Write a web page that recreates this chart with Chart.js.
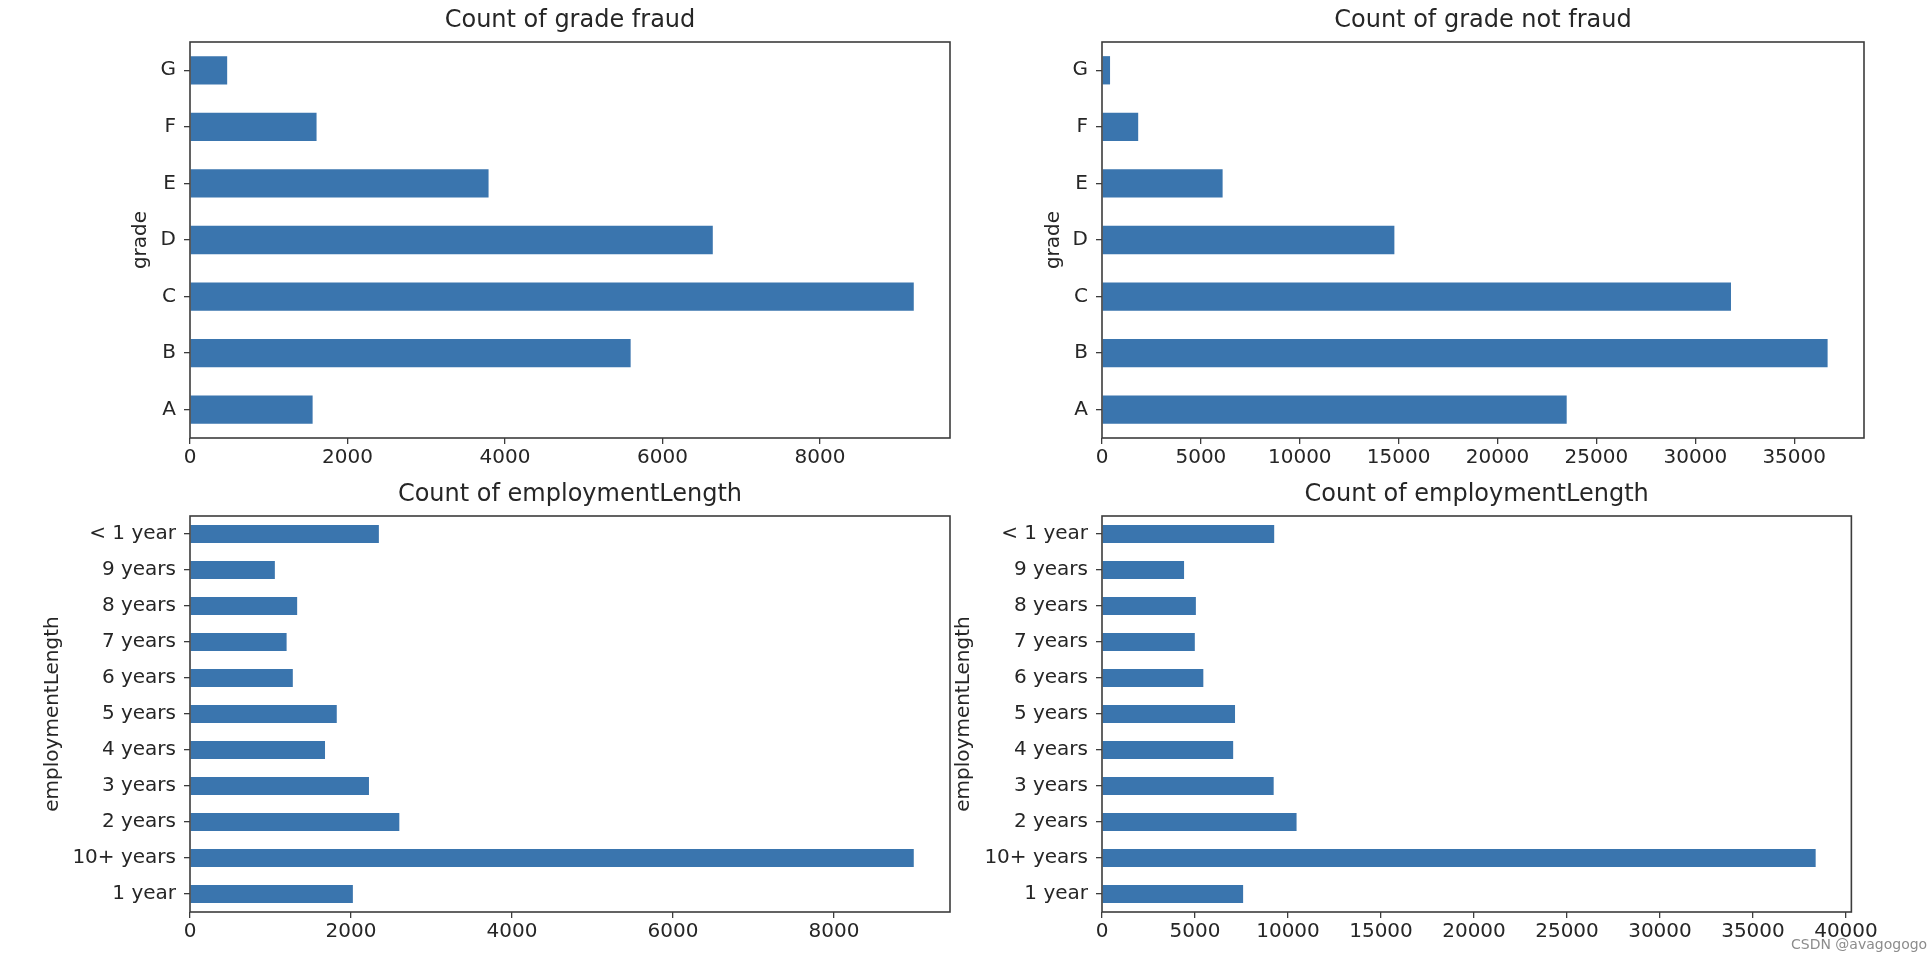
<!DOCTYPE html>
<html>
<head>
<meta charset="utf-8">
<script src="https://cdn.jsdelivr.net/npm/chart.js@4.4.1/dist/chart.umd.min.js"></script>
<style>
  html, body { margin: 0; padding: 0; background: #fff; }
  body { width: 1930px; height: 964px; position: relative; overflow: hidden; }
  canvas { position: absolute; display: block; }
  #gradeFraud { left: 0; top: 0; }
  #gradeNotFraud { left: 940px; top: 0; }
  #empFraud { left: 0; top: 474px; }
  #empNotFraud { left: 940px; top: 474px; }
  .watermark { position: absolute; left: 1791px; top: 936px; font: 14px "DejaVu Sans", sans-serif; color: #8c8c8c; }
</style>
</head>
<body>
<canvas id="gradeFraud" width="965" height="480"></canvas>
<canvas id="gradeNotFraud" width="940" height="480"></canvas>
<canvas id="empFraud" width="965" height="480"></canvas>
<canvas id="empNotFraud" width="940" height="480"></canvas>
<div class="watermark">CSDN @avagogogo</div>
<script>
const gradeLabels = ['A', 'B', 'C', 'D', 'E', 'F', 'G'];
const gradeFraudCounts = [1557, 5595, 9190, 6638, 3791, 1607, 472];
const gradeNotFraudCounts = [23497, 36690, 31804, 14784, 6099, 1830, 407];

const empLabels = ['1 year', '10+ years', '2 years', '3 years', '4 years', '5 years', '6 years', '7 years', '8 years', '9 years', '< 1 year'];
const empFraudCounts = [2023, 8990, 2600, 2223, 1677, 1823, 1277, 1200, 1331, 1054, 2346];
const empNotFraudCounts = [7587, 38370, 10461, 9230, 7052, 7152, 5448, 4990, 5047, 4412, 9258];

// x tick values and axis limits
const gradeFraudTicks = [0, 2000, 4000, 6000, 8000];
const gradeNotFraudTicks = [0, 5000, 10000, 15000, 20000, 25000, 30000, 35000];
const empFraudTicks = [0, 2000, 4000, 6000, 8000];
const empNotFraudTicks = [0, 5000, 10000, 15000, 20000, 25000, 30000, 35000, 40000];
const gradeFraudMax = 9650;
const gradeNotFraudMax = 38530;
const empFraudMax = 9440;
const empNotFraudMax = 40290;

const barColor = '#3a75ae';
const inkColor = '#262626';
const lineColor = '#3c3c3c';
const fontFamily = '"DejaVu Sans", sans-serif';

const frameBox = {
  id: 'frameBox',
  afterDraw(chart) {
    const { ctx, chartArea: a } = chart;
    ctx.save();
    ctx.strokeStyle = lineColor;
    ctx.lineWidth = 1.6;
    ctx.strokeRect(a.left, a.top, a.right - a.left, a.bottom - a.top);
    ctx.restore();
  }
};

function makeChart(id, cfg) {
  return new Chart(document.getElementById(id), {
    type: 'bar',
    data: {
      labels: cfg.labels,
      datasets: [{
        data: cfg.values,
        backgroundColor: barColor,
        borderWidth: 0,
        barPercentage: 0.5,
        categoryPercentage: 1.0,
      }]
    },
    options: {
      indexAxis: 'y',
      responsive: false,
      animation: false,
      layout: { padding: { left: 0, right: cfg.padRight, top: 0, bottom: 0 } },
      plugins: {
        legend: { display: false },
        tooltip: { enabled: false },
        title: {
          display: true,
          text: cfg.title,
          fullSize: false,
          color: inkColor,
          font: { family: fontFamily, size: 24, weight: 'normal', lineHeight: 1.2 },
          padding: { top: 6.6, bottom: 6.6 },
        },
      },
      scales: {
        y: {
          type: 'category',
          reverse: true,
          offset: true,
          grid: { display: true, drawOnChartArea: false, drawTicks: true, tickLength: 6, offset: false, color: lineColor, lineWidth: 1.3 },
          border: { display: false },
          ticks: { color: inkColor, font: { family: fontFamily, size: 20 }, padding: 8, autoSkip: false },
          title: {
            display: true,
            text: cfg.yTitle,
            color: inkColor,
            font: { family: fontFamily, size: 20, lineHeight: 1.2 },
            padding: { top: cfg.yTitlePad, bottom: 0 },
          },
          afterFit(scale) { scale.width = cfg.yWidth; },
        },
        x: {
          type: 'linear',
          min: 0,
          max: cfg.max,
          grid: { display: true, drawOnChartArea: false, drawTicks: true, tickLength: 6, color: lineColor, lineWidth: 1.3 },
          border: { display: false },
          ticks: {
            maxRotation: 0,
            color: inkColor,
            font: { family: fontFamily, size: 20 },
            padding: 2,
            callback: v => String(v),
          },
          afterBuildTicks(scale) { scale.ticks = cfg.ticks.map(v => ({ value: v })); },
          afterFit(scale) { scale.height = 42; },
        }
      }
    },
    plugins: [frameBox]
  });
}

makeChart('gradeFraud', {
  labels: gradeLabels, values: gradeFraudCounts, ticks: gradeFraudTicks, max: gradeFraudMax,
  title: 'Count of grade fraud', yTitle: 'grade',
  yWidth: 190, yTitlePad: 129, padRight: 15,
});
makeChart('gradeNotFraud', {
  labels: gradeLabels, values: gradeNotFraudCounts, ticks: gradeNotFraudTicks, max: gradeNotFraudMax,
  title: 'Count of grade not fraud', yTitle: 'grade',
  yWidth: 162, yTitlePad: 102, padRight: 16,
});
makeChart('empFraud', {
  labels: empLabels, values: empFraudCounts, ticks: empFraudTicks, max: empFraudMax,
  title: 'Count of employmentLength', yTitle: 'employmentLength',
  yWidth: 190, yTitlePad: 41, padRight: 15,
});
makeChart('empNotFraud', {
  labels: empLabels, values: empNotFraudCounts, ticks: empNotFraudTicks, max: empNotFraudMax,
  title: 'Count of employmentLength', yTitle: 'employmentLength',
  yWidth: 162, yTitlePad: 12, padRight: 16,
});
</script>
</body>
</html>
